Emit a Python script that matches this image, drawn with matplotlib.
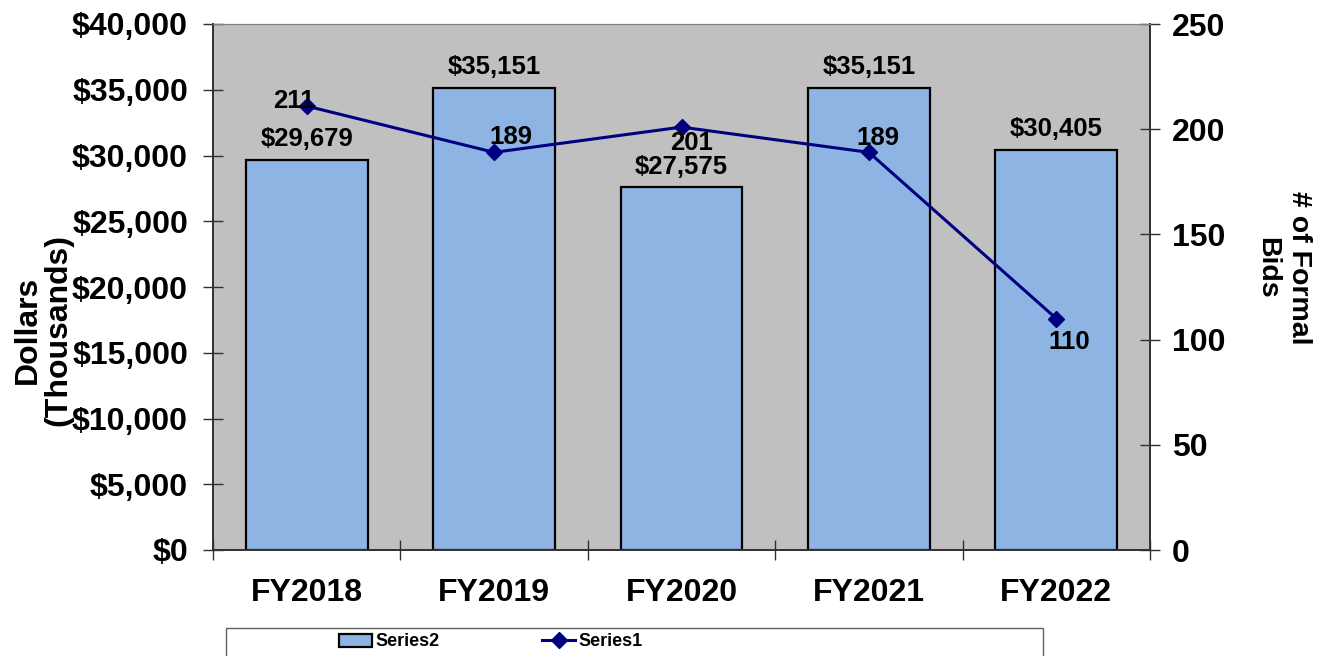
import matplotlib
matplotlib.use('Agg')
import matplotlib.pyplot as plt
from matplotlib.patches import Rectangle
from matplotlib.ticker import FuncFormatter, MultipleLocator

# data
YEARS = ['FY2018', 'FY2019', 'FY2020', 'FY2021', 'FY2022']
DOLLARS = [29679, 35151, 27575, 35151, 30405]  # Series2, thousands
BIDS = [211, 189, 201, 189, 110]               # Series1, # of formal bids

# label offsets (points) for the line labels, as placed in the original
BID_OFFS = [(-9.5, 3.5), (12, 11), (7, -11.5), (6.5, 10), (9.5, -17)]

BAR_CLR = '#8EB4E3'
BG_CLR = '#C0C0C0'
LINE_CLR = '#000080'

plt.rcParams['font.family'] = ['Liberation Sans', 'DejaVu Sans']
plt.rcParams['font.weight'] = 'bold'

fig = plt.figure(figsize=(13.32, 6.56), dpi=100)
ax = fig.add_axes([213 / 1332, 1 - 550 / 656, (1150 - 213) / 1332, (550 - 24) / 656])
ax2 = ax.twinx()

xs = list(range(len(YEARS)))
bars = ax.bar(xs, DOLLARS, width=0.65, color=BAR_CLR, edgecolor='black', linewidth=1.6, zorder=2, label='Series2')
ax.set_facecolor(BG_CLR)
ax.set_xlim(-0.5, len(YEARS) - 0.5)
ax.set_ylim(0, 40000)
ax.yaxis.set_major_locator(MultipleLocator(5000))
ax.yaxis.set_major_formatter(FuncFormatter(lambda v, p: '${:,.0f}'.format(v)))
ax.set_xticks([x + 0.5 for x in [-1] + xs])
ax.set_xticklabels([])
ax.set_xticks(xs, minor=True)
ax.set_xticklabels(YEARS, minor=True)
ax.tick_params(axis='x', which='minor', length=0, pad=20, labelsize=23)
ax.tick_params(axis='x', which='major', direction='inout', length=14, width=1, color='#303030')
ax.tick_params(axis='y', direction='inout', length=14, width=1, color='#303030', labelsize=23, pad=11)

for b, v in zip(bars, DOLLARS):
   ax.annotate('${:,}'.format(v), (b.get_x() + b.get_width() / 2, v), xytext=(0, 15),
               textcoords='offset points', ha='center', va='center', fontsize=18.5, fontweight='bold', zorder=5)

ax2.plot(xs, BIDS, color=LINE_CLR, lw=2.2, marker='D', markersize=8, zorder=4, label='Series1')
ax2.set_ylim(0, 250)
ax2.yaxis.set_major_locator(MultipleLocator(50))
ax2.tick_params(axis='y', direction='inout', length=14, width=1, color='#303030', labelsize=23, pad=9)
for x, v, off in zip(xs, BIDS, BID_OFFS):
   ax2.annotate(str(v), (x, v), xytext=off, textcoords='offset points', ha='center', va='center',
                fontsize=18.5, fontweight='bold', zorder=5)

for a in (ax, ax2):
   a.spines['top'].set_color('#808080')
   for s in ('left', 'right', 'bottom'):
      a.spines[s].set_color('#303030')
      a.spines[s].set_linewidth(1.2)

fig.text(43 / 1332, 1 - 330 / 656, 'Dollars\n(Thousands)', rotation=90, ha='center', va='center',
         fontsize=23, fontweight='bold', linespacing=1.05)
fig.text(1283 / 1332, 1 - 268 / 656, '# of Formal\nBids', rotation=-90, ha='center', va='center',
         fontsize=20.5, fontweight='bold', linespacing=1.3)

# legend box (bottom edge is cut off in the original)
fig.patches.append(Rectangle((226 / 1332, -0.05), (1043 - 226) / 1332, 0.05 + 1 - 628 / 656,
                             transform=fig.transFigure, fill=False, edgecolor='#606060', lw=1))
h1, l1 = ax.get_legend_handles_labels()
h2, l2 = ax2.get_legend_handles_labels()
fig.legend(h1 + h2, l1 + l2, ncol=2, frameon=False, loc='center left',
           bbox_to_anchor=(323 / 1332, 1 - 642 / 656), prop={'size': 13, 'weight': 'bold'},
           handlelength=1.8, handletextpad=0.2, columnspacing=5.7, handleheight=0.7)

fig.savefig('out.png', dpi=100)
